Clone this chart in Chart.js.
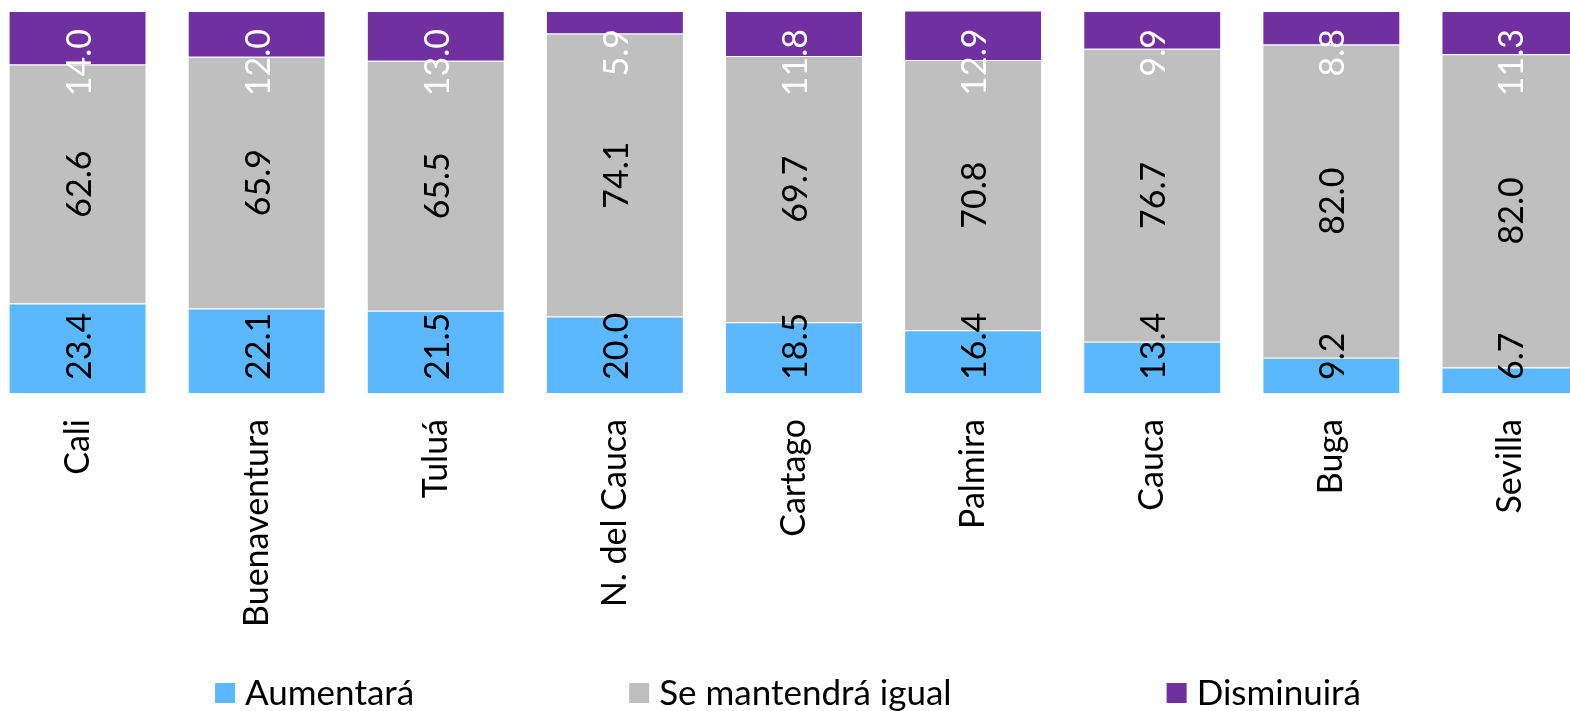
<!DOCTYPE html>
<html>
<head>
<meta charset="utf-8">
<script src="https://cdn.jsdelivr.net/npm/chart.js@4.4.1/dist/chart.umd.min.js"></script>
<style>
  html, body { margin: 0; padding: 0; background: #fff; overflow: hidden; }
  #wrap { position: absolute; left: -12px; top: 0; width: 1612px; height: 711px; }
</style>
</head>
<body>
<div id="wrap"><canvas id="chart"></canvas></div>
<script>
// Expectativa por ciudad (%)
const categories = ['Cali', 'Buenaventura', 'Tuluá', 'N. del Cauca', 'Cartago', 'Palmira', 'Cauca', 'Buga', 'Sevilla'];
const aumentara  = [23.4, 22.1, 21.5, 20.0, 18.5, 16.4, 13.4, 9.2, 6.7];
const igual      = [62.6, 65.9, 65.5, 74.1, 69.7, 70.8, 76.7, 82.0, 82.0];
const disminuira = [14.0, 12.0, 13.0, 5.9, 11.8, 12.9, 9.9, 8.8, 11.3];

const seriesNames  = ['Aumentará', 'Se mantendrá igual', 'Disminuirá'];
const seriesColors = ['#5cb8fe', '#bfbfbf', '#7030a0'];

// valores dentro de las barras, rotados
const barLabels = {
  id: 'barLabels',
  afterDatasetsDraw(chart) {
    const ctx = chart.ctx;
    ctx.save();
    ctx.font = '34px Lato';
    ctx.textBaseline = 'middle';
    chart.data.datasets.forEach((ds, di) => {
      chart.getDatasetMeta(di).data.forEach((bar, i) => {
        const { x, y, base } = bar.getProps(['x', 'y', 'base'], true);
        let ty, align;
        if (di === 0) { ty = base - 13; align = 'left'; }
        else if (di === 1) { ty = (y + base) / 2; align = 'center'; }
        else { ty = y + 18; align = 'right'; }
        ctx.save();
        ctx.translate(x + 2, ty);
        ctx.rotate(-Math.PI / 2);
        ctx.textAlign = align;
        ctx.fillStyle = di === 2 ? '#ffffff' : '#000000';
        ctx.fillText(ds.data[i].toFixed(1), 0, 0);
        ctx.restore();
      });
    });
    ctx.restore();
  }
};

// leyenda en una fila, bien separada
const legendRow = {
  id: 'legendRow',
  afterDraw(chart) {
    const ctx = chart.ctx;
    ctx.save();
    ctx.font = '35px Lato';
    ctx.textBaseline = 'middle';
    const gap = 215, box = 20, textGap = 10, cy = 693;
    const widths = chart.data.datasets.map(d => box + textGap + ctx.measureText(d.label).width);
    const total = widths.reduce((a, b) => a + b, 0) + gap * (widths.length - 1);
    let x = chart.width / 2 - 6 - total / 2;
    chart.data.datasets.forEach((d, i) => {
      ctx.fillStyle = d.backgroundColor;
      ctx.fillRect(x, cy - 10, box, box);
      ctx.fillStyle = '#000';
      ctx.fillText(d.label, x + box + textGap, cy + 1);
      x += widths[i] + gap;
    });
    ctx.restore();
  }
};

const datasets = [aumentara, igual, disminuira].map((data, i) => ({
  label: seriesNames[i],
  data,
  backgroundColor: seriesColors[i],
  borderColor: 'rgba(255,255,255,0.55)',
  borderWidth: 1,
  barPercentage: 0.77,
  categoryPercentage: 1.0
}));

new Chart(document.getElementById('chart'), {
  type: 'bar',
  data: { labels: categories, datasets },
  options: {
    responsive: true,
    maintainAspectRatio: false,
    animation: false,
    layout: { padding: { top: 11, bottom: 58, left: 0, right: 0 } },
    plugins: { legend: { display: false }, tooltip: { enabled: false } },
    scales: {
      x: {
        stacked: true,
        grid: { display: false, drawTicks: false },
        border: { display: false },
        ticks: {
          minRotation: 90, maxRotation: 90,
          padding: 26,
          color: '#000',
          font: { family: 'Lato', size: 34 }
        },
        afterFit(scale) { scale.height = 260; }
      },
      y: { stacked: true, display: false, min: 0, max: 100 }
    }
  },
  plugins: [barLabels, legendRow]
});
</script>
</body>
</html>
